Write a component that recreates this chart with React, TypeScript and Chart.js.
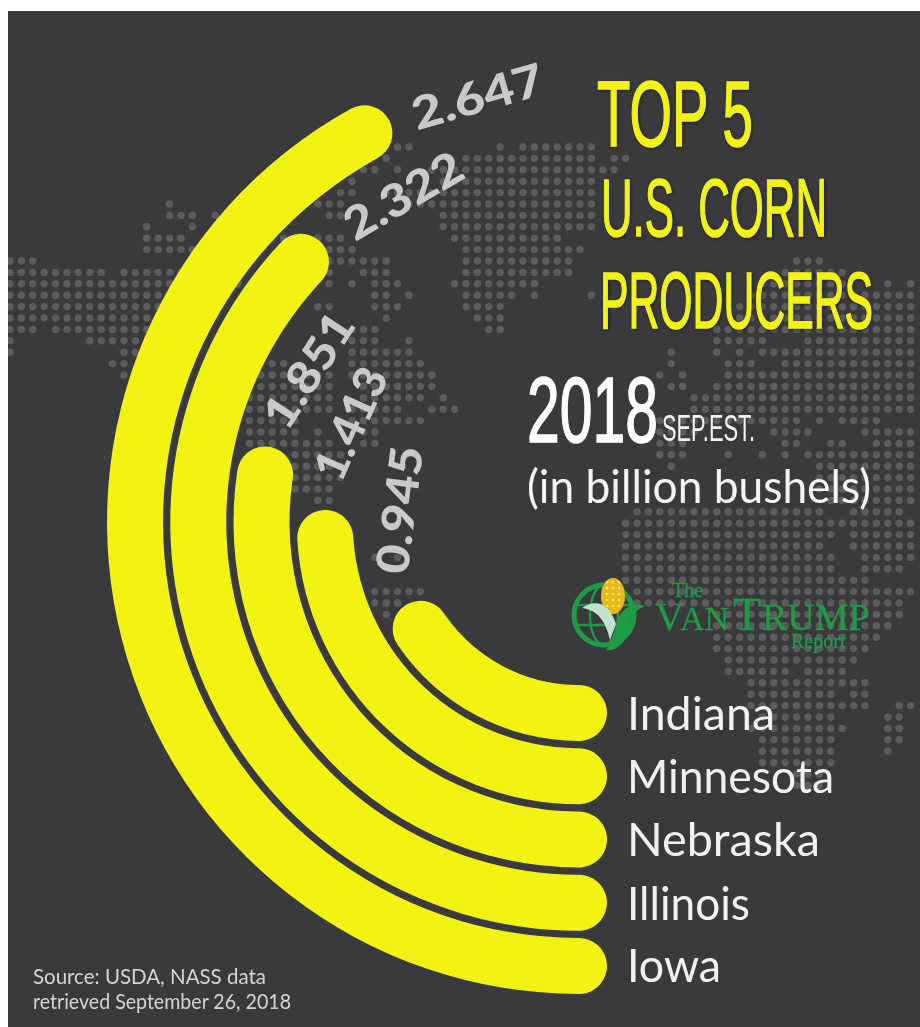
import React, { useEffect, useRef } from "react";
import { Chart, registerables } from "chart.js";

Chart.register(...registerables);

// ---- data (outermost ring first) ----
const states = ["Iowa", "Illinois", "Nebraska", "Minnesota", "Indiana"];
const production = [2.647, 2.322, 1.851, 1.413, 0.945];
const valueText = ["2.647", "2.322", "1.851", "1.413", "0.945"];

// ---- drawn geometry ----
const W = 920;
const H = 1027;
const CX = 579;
const CY = 522;
const OUTER = 472;
const INNER = 163;
const THICK = 56;
const GAP = 7.25;
const endCapDeg = [151.1, 133.1, 98.6, 86.4, 56];
const ringMid = [444, 381, 317, 254, 191];
const labelPlace = [
  { x: 478, y: 98, rot: -16, w: 135 },
  { x: 404, y: 197, rot: -30, w: 130 },
  { x: 310, y: 371, rot: -57, w: 128 },
  { x: 352, y: 424, rot: -66, w: 118 },
  { x: 401, y: 510, rot: -83, w: 128 },
];
const nameBaseline = [982, 920, 856, 793, 730];
const nameWidth = [94, 123, 193, 207, 148];

const YELLOW = "#f3f313";
const PANEL = "#3a3a3c";
const DOT = "#5c5c5e";

// dotted world map: [row, from, to, from, to, ...]
const mapRuns: number[][] = [
  [0, 34, 35, 43, 43, 45, 51],
  [1, 33, 33, 40, 51, 53, 54],
  [2, 31, 32, 34, 34, 37, 53],
  [3, 30, 30, 38, 51],
  [4, 29, 30, 33, 51],
  [5, 14, 14, 27, 29, 35, 51],
  [6, 14, 16, 18, 18, 28, 29, 38, 51],
  [7, 12, 12, 16, 16, 38, 51],
  [8, 12, 15, 24, 24, 27, 29, 39, 48],
  [9, 12, 16, 28, 30, 40, 50],
  [10, 0, 2, 28, 33, 40, 49, 69, 71],
  [11, 0, 8, 10, 20, 28, 28, 31, 33, 40, 49, 68, 73],
  [12, 0, 20, 28, 28, 30, 30, 32, 34, 39, 46, 66, 73, 77, 77, 79, 79],
  [13, 0, 19, 32, 33, 35, 35, 40, 44, 46, 46, 51, 51, 65, 79],
  [14, 0, 18, 27, 28, 32, 34, 40, 43, 53, 53, 64, 79],
  [15, 0, 17, 33, 33, 41, 43, 64, 79],
  [16, 0, 2, 4, 16, 30, 32, 42, 43, 62, 79],
  [17, 0, 0, 7, 11, 30, 32, 35, 35, 62, 66, 70, 79],
  [18, 0, 0, 10, 11, 30, 35, 58, 58, 62, 62, 64, 64, 66, 79],
  [19, 9, 10, 23, 24, 30, 36, 58, 58, 63, 65, 68, 79],
  [20, 10, 10, 22, 28, 30, 37, 57, 57, 59, 59, 63, 79],
  [21, 21, 28, 31, 37, 58, 59, 62, 79],
  [22, 21, 28, 31, 36, 38, 38, 60, 79],
  [23, 21, 28, 30, 34, 37, 39, 60, 79],
  [24, 21, 25, 30, 36, 57, 69, 71, 71, 73, 76],
  [25, 21, 25, 27, 27, 31, 32, 57, 60, 67, 70, 75, 79],
  [26, 21, 28, 31, 32, 57, 59, 68, 69, 72, 73, 76, 79],
  [27, 21, 21, 25, 29, 57, 59, 63, 63, 66, 66, 68, 68, 70, 79],
  [28, 25, 29, 58, 58, 71, 79],
  [29, 25, 29, 71, 79],
  [30, 25, 28, 71, 79],
  [31, 27, 28, 72, 79],
  [32, 55, 71, 74, 78],
  [33, 54, 79],
  [34, 54, 72, 74, 79],
  [35, 54, 71, 74, 79],
  [36, 32, 32, 34, 34, 54, 72, 75, 79],
  [37, 54, 72, 75, 78],
  [38, 54, 75],
  [39, 32, 36, 55, 79],
  [40, 32, 34, 55, 78],
  [41, 33, 33, 62, 78],
  [42, 62, 77],
  [43, 62, 76],
  [44, 62, 75],
  [45, 63, 74],
  [46, 63, 68, 70, 73],
  [47, 65, 75],
  [48, 65, 72, 74, 75],
  [49, 65, 75, 78, 79],
  [50, 66, 72, 77, 78],
  [51, 65, 73, 77, 78],
  [52, 66, 72, 77, 78],
  [53, 66, 72, 77, 77],
  [54, 66, 72],
  [55, 69, 71],
  [56, 69, 71],
];

const fitText = (
  ctx: CanvasRenderingContext2D,
  text: string,
  width: number,
  align: "left" | "center"
) => {
  const measured = ctx.measureText(text).width;
  ctx.scale(width / measured, 1);
  ctx.textAlign = align;
  ctx.fillText(text, 0, 0);
};

const backdrop = {
  id: "backdrop",
  beforeDraw(chart: any) {
    const ctx: CanvasRenderingContext2D = chart.ctx;
    ctx.save();
    ctx.fillStyle = "#ffffff";
    ctx.fillRect(0, 0, W, H);
    ctx.beginPath();
    ctx.rect(8, 11, W - 8, H - 11);
    ctx.clip();
    ctx.fillStyle = PANEL;
    ctx.fillRect(8, 11, W - 8, H - 11);
    ctx.fillStyle = DOT;
    mapRuns.forEach(([row, ...runs]) => {
      for (let i = 0; i < runs.length; i += 2) {
        for (let c = runs[i]; c <= runs[i + 1]; c++) {
          ctx.beginPath();
          ctx.arc(10 + 11.4 * c, 147 + 11.4 * row, 3.7, 0, Math.PI * 2);
          ctx.fill();
        }
      }
    });
    ctx.restore();
  },
};

const ringLabels = {
  id: "ringLabels",
  afterDatasetsDraw(chart: any) {
    const ctx: CanvasRenderingContext2D = chart.ctx;
    states.forEach((name, i) => {
      ctx.save();
      ctx.translate(627, nameBaseline[i]);
      ctx.fillStyle = "#f1f1f1";
      ctx.font = '400 47px Lato, "Open Sans", sans-serif';
      ctx.textBaseline = "alphabetic";
      fitText(ctx, name, nameWidth[i], "left");
      ctx.restore();

      const p = labelPlace[i];
      ctx.save();
      ctx.translate(p.x, p.y);
      ctx.rotate((p.rot * Math.PI) / 180);
      ctx.fillStyle = "#c9c9c9";
      ctx.font = '900 45px Lato, "Open Sans", sans-serif';
      ctx.textBaseline = "middle";
      fitText(ctx, valueText[i], p.w, "center");
      ctx.restore();
    });
  },
};

const buildDatasets = () => {
  const sets: any[] = [];
  production.forEach((value, i) => {
    const capDeg = ((THICK / 2 / ringMid[i]) * 180) / Math.PI;
    const sweep = endCapDeg[i] + capDeg * 2;
    sets.push({
      label: states[i],
      data: [value, (value * (360 - sweep)) / sweep],
      backgroundColor: [YELLOW, "rgba(0,0,0,0)"],
      borderWidth: 0,
      borderRadius: THICK / 2,
      rotation: 180 - capDeg,
      circumference: 360,
      weight: THICK,
      clip: false,
    });
    if (i < production.length - 1) {
      sets.push({
        label: "",
        data: [1],
        backgroundColor: ["rgba(0,0,0,0)"],
        borderWidth: 0,
        weight: GAP,
        clip: false,
      });
    }
  });
  return sets;
};

const narrow = '"Liberation Sans Narrow", "Liberation Sans", sans-serif';
const round = 'Lato, "Open Sans", sans-serif';
const serif = '"Liberation Serif", serif';

export default function App() {
  const ref = useRef<HTMLCanvasElement>(null);

  useEffect(() => {
    const chart = new Chart(ref.current as HTMLCanvasElement, {
      type: "doughnut",
      data: { labels: ["Production", ""], datasets: buildDatasets() },
      options: {
        responsive: false,
        animation: false,
        events: [],
        radius: OUTER,
        cutout: `${(INNER / OUTER) * 100}%`,
        layout: {
          padding: { left: 2 * CX - W, top: 2 * CY - H, right: 0, bottom: 0 },
        },
        plugins: { legend: { display: false }, tooltip: { enabled: false } },
      } as any,
      plugins: [backdrop, ringLabels],
    });
    return () => chart.destroy();
  }, []);

  const green = "#1f9a45";
  return (
    <div style={{ position: "fixed", left: 0, top: 0, width: W, height: H, overflow: "hidden", background: "#fff" }}>
      <canvas ref={ref} width={W} height={H} style={{ position: "absolute", left: 0, top: 0, width: W, height: H }} />
      <svg width={W} height={H} viewBox={`0 0 ${W} ${H}`} style={{ position: "absolute", left: 0, top: 0 }}>
        <g fill={YELLOW} stroke={YELLOW} strokeWidth={1.6} fontFamily={narrow} style={{ filter: "drop-shadow(1.5px 1.5px 1.5px rgba(0,0,0,0.55))" }}>
          <text x={597} y={146} fontSize={92} textLength={156} lengthAdjust="spacingAndGlyphs">TOP 5</text>
          <text x={601} y={236} fontSize={81} textLength={226} lengthAdjust="spacingAndGlyphs">U.S. CORN</text>
          <text x={600} y={328} fontSize={80} textLength={273} lengthAdjust="spacingAndGlyphs">PRODUCERS</text>
        </g>
        <g fill="#ffffff" fontFamily={narrow}>
          <text x={527} y={442} fontSize={93} stroke="#ffffff" strokeWidth={1.6} textLength={131} lengthAdjust="spacingAndGlyphs">2018</text>
          <text x={662} y={441} fontSize={36} textLength={93} lengthAdjust="spacingAndGlyphs" fill="#f2f2f2">SEP.EST.</text>
        </g>
        <text x={527} y={503} fontSize={46} fontFamily={round} fill="#f4f4f4" textLength={344} lengthAdjust="spacingAndGlyphs">(in billion bushels)</text>
        <g fontFamily={round} fontSize={21} fill="#d4d4d4">
          <text x={33} y={984} textLength={233} lengthAdjust="spacingAndGlyphs">Source: USDA, NASS data</text>
          <text x={33} y={1009} textLength={258} lengthAdjust="spacingAndGlyphs">retrieved September 26, 2018</text>
        </g>

        {/* logo */}
        <g>
          <g fill="none" stroke={green} strokeWidth={2.4}>
            <circle cx={604} cy={615} r={30} strokeWidth={5} />
            <ellipse cx={604} cy={615} rx={14} ry={30} />
            <line x1={574} y1={605} x2={634} y2={605} />
            <line x1={574} y1={625} x2={634} y2={625} />
          </g>
          <ellipse cx={613} cy={596} rx={12} ry={18} fill="#e4b91f" />
          {[582, 588, 594, 600, 606].map((y) =>
            [607, 613, 619].map((x) => <circle key={`${x}-${y}`} cx={x} cy={y} r={1.3} fill="#ffe34d" />)
          )}
          <path d="M582 608 C596 598 610 604 616 624 L610 640 C606 622 598 610 582 608 Z" fill="#bfe3cf" />
          <path d="M646 606 C630 600 618 612 616 626 C614 638 610 646 606 650 C618 652 628 640 630 624 C632 614 638 608 646 606 Z" fill={green} />
        </g>
        <g fill={green} fontFamily={serif} stroke={green} strokeWidth={0.3}>
          <text x={672} y={597} fontSize={20}>The</text>
          <text y={630}>
            <tspan x={655} fontSize={40}>V</tspan>
            <tspan x={680} fontSize={34}>AN </tspan>
            <tspan x={733} fontSize={46}>T</tspan>
            <tspan x={762} fontSize={38}>RUMP</tspan>
          </text>
          <text x={791} y={648} fontSize={20}>Report</text>
        </g>
      </svg>
    </div>
  );
}
